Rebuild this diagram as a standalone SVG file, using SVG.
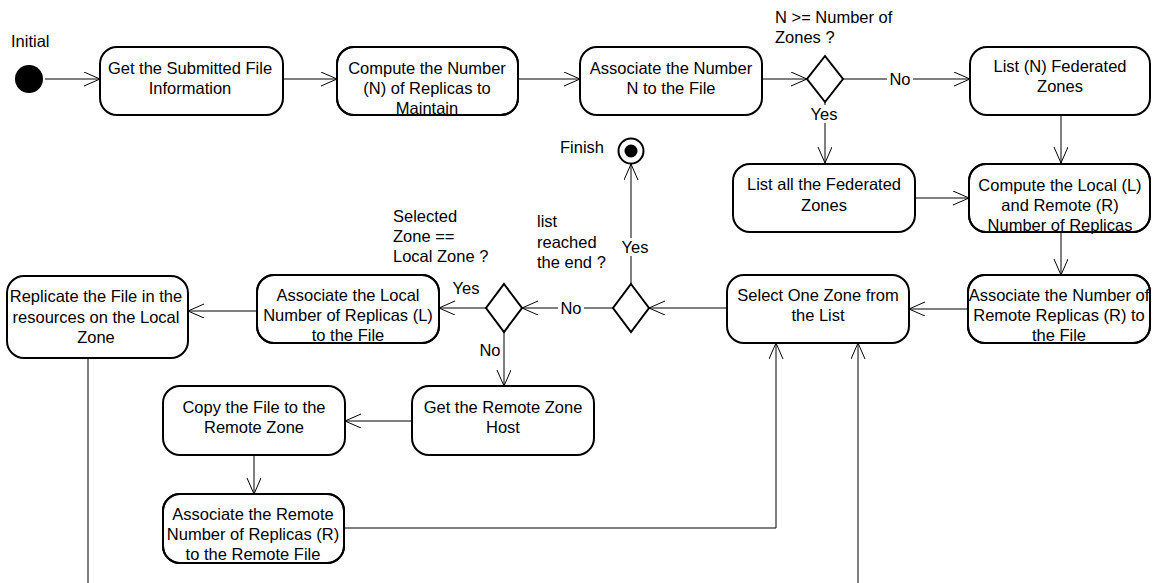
<svg xmlns="http://www.w3.org/2000/svg" width="1156" height="583" viewBox="0 0 1156 583">
  <style>
    text { font-family: "Liberation Sans", Arial, sans-serif; font-size: 16.5px; fill: #000; }
    .c { text-anchor: middle; }
    .act { fill: #fff; stroke: #000; stroke-width: 2; }
    .act-border { fill: none; stroke: #000; stroke-width: 2; }
    .dec { fill: #fff; stroke: #000; stroke-width: 2; }
    .edge { fill: none; stroke: #000; stroke-width: 1; }
    .lblbg { fill: #fff; stroke: none; }
  </style>
  <defs>
    <marker id="open" markerUnits="userSpaceOnUse" markerWidth="18" markerHeight="16" refX="16" refY="7" orient="auto">
      <path d="M0,0 L16,7 L0,14" fill="none" stroke="#000" stroke-width="1"/>
    </marker>
  </defs>

  <rect width="1156" height="583" fill="#fff"/>

  <!-- connectors -->
  <g id="connectors">
    <line class="edge" x1="45" y1="79" x2="100" y2="79" marker-end="url(#open)"/>
    <line class="edge" x1="283" y1="79" x2="337" y2="79" marker-end="url(#open)"/>
    <line class="edge" x1="518" y1="79" x2="580" y2="79" marker-end="url(#open)"/>
    <line class="edge" x1="762" y1="79" x2="807" y2="79" marker-end="url(#open)"/>
    <line class="edge" x1="843" y1="79" x2="970" y2="79" marker-end="url(#open)"/>
    <line class="edge" x1="825" y1="102" x2="825" y2="163" marker-end="url(#open)"/>
    <line class="edge" x1="1061" y1="116" x2="1061" y2="163" marker-end="url(#open)"/>
    <line class="edge" x1="915" y1="198" x2="969" y2="198" marker-end="url(#open)"/>
    <line class="edge" x1="1061" y1="233" x2="1061" y2="275" marker-end="url(#open)"/>
    <line class="edge" x1="968" y1="309" x2="909" y2="309" marker-end="url(#open)"/>
    <line class="edge" x1="727" y1="308" x2="649" y2="308" marker-end="url(#open)"/>
    <line class="edge" x1="631" y1="284" x2="631" y2="164" marker-end="url(#open)"/>
    <line class="edge" x1="613" y1="308" x2="522" y2="308" marker-end="url(#open)"/>
    <line class="edge" x1="486" y1="308" x2="439" y2="308" marker-end="url(#open)"/>
    <line class="edge" x1="504" y1="332" x2="504" y2="386" marker-end="url(#open)"/>
    <line class="edge" x1="257" y1="311" x2="188" y2="311" marker-end="url(#open)"/>
    <line class="edge" x1="412" y1="421" x2="345" y2="421" marker-end="url(#open)"/>
    <line class="edge" x1="254" y1="456" x2="254" y2="494" marker-end="url(#open)"/>
    <polyline class="edge" points="344,528 776,528 776,343" marker-end="url(#open)"/>
    <line class="edge" x1="858" y1="583" x2="858" y2="343" marker-end="url(#open)"/>
    <line class="edge" x1="88" y1="359" x2="88" y2="583"/>

    <!-- guard labels -->
    <rect class="lblbg" x="887" y="71" width="26" height="16"/>
    <text class="c" x="900" y="85">No</text>
    <rect class="lblbg" x="809" y="105" width="32" height="18"/>
    <text class="c" x="824" y="120">Yes</text>
    <rect class="lblbg" x="619" y="238" width="32" height="18"/>
    <text class="c" x="635" y="253">Yes</text>
    <rect class="lblbg" x="558" y="300" width="26" height="16"/>
    <text class="c" x="571" y="314">No</text>
    <text class="c" x="466" y="294">Yes</text>
    <text class="c" x="490" y="356">No</text>

    <!-- decision conditions -->
    <text x="775" y="23">N &gt;= Number of</text>
    <text x="775" y="43">Zones ?</text>
    <text x="537" y="227">list</text>
    <text x="537" y="248">reached</text>
    <text x="537" y="268">the end ?</text>
    <text x="393" y="222">Selected</text>
    <text x="393" y="242">Zone ==</text>
    <text x="393" y="262">Local Zone ?</text>
  </g>

  <!-- start / end -->
  <g id="initial">
    <circle cx="29" cy="79" r="14" fill="#000"/>
    <text x="11" y="47">Initial</text>
  </g>
  <g id="finish">
    <circle cx="631" cy="151" r="12.5" fill="#fff" stroke="#000" stroke-width="2"/>
    <circle cx="631" cy="151" r="6.5" fill="#000"/>
    <text x="560" y="153">Finish</text>
  </g>

  <!-- decisions -->
  <g id="dec-zones"><polygon class="dec" points="825,56 843,79 825,102 807,79"/></g>
  <g id="dec-end"><polygon class="dec" points="631,284 649,308 631,332 613,308"/></g>
  <g id="dec-local"><polygon class="dec" points="504,284 522,308 504,332 486,308"/></g>

  <!-- actions -->
  <g id="get-info">
    <rect class="act" x="100" y="47" width="183" height="68" rx="17"/>
    <text class="c" x="190" y="74">Get the Submitted File</text>
    <text class="c" x="190" y="94">Information</text>
  </g>
  <g id="compute-n">
    <rect class="act" x="337" y="47" width="181" height="68" rx="17"/>
    <text class="c" x="427" y="74">Compute the Number</text>
    <text class="c" x="427" y="94">(N) of Replicas to</text>
    <text class="c" x="427" y="114">Maintain</text>
    <rect class="act-border" x="337" y="47" width="181" height="68" rx="17"/>
  </g>
  <g id="associate-n">
    <rect class="act" x="580" y="47" width="182" height="68" rx="17"/>
    <text class="c" x="671" y="74">Associate the Number</text>
    <text class="c" x="671" y="94">N to the File</text>
  </g>
  <g id="list-n">
    <rect class="act" x="970" y="47" width="180" height="68" rx="17"/>
    <text class="c" x="1060" y="72">List (N) Federated</text>
    <text class="c" x="1060" y="92">Zones</text>
  </g>
  <g id="list-all">
    <rect class="act" x="733" y="164" width="182" height="68" rx="17"/>
    <text class="c" x="824" y="190">List all the Federated</text>
    <text class="c" x="824" y="211">Zones</text>
  </g>
  <g id="compute-lr">
    <rect class="act" x="969" y="164" width="181" height="68" rx="17"/>
    <text class="c" x="1060" y="191">Compute the Local (L)</text>
    <text class="c" x="1060" y="211">and Remote (R)</text>
    <text class="c" x="1060" y="231">Number of Replicas</text>
    <rect class="act-border" x="969" y="164" width="181" height="68" rx="17"/>
  </g>
  <g id="associate-r">
    <rect class="act" x="968" y="275" width="182" height="68" rx="17"/>
    <text class="c" x="1059" y="301">Associate the Number of</text>
    <text class="c" x="1059" y="321">Remote Replicas (R) to</text>
    <text class="c" x="1059" y="341">the  File</text>
    <rect class="act-border" x="968" y="275" width="182" height="68" rx="17"/>
  </g>
  <g id="select-zone">
    <rect class="act" x="727" y="275" width="182" height="68" rx="17"/>
    <text class="c" x="818" y="301">Select One Zone from</text>
    <text class="c" x="818" y="321">the List</text>
  </g>
  <g id="associate-local">
    <rect class="act" x="257" y="275" width="182" height="68" rx="17"/>
    <text class="c" x="348" y="301">Associate the Local</text>
    <text class="c" x="348" y="321">Number of Replicas (L)</text>
    <text class="c" x="348" y="341">to the File</text>
    <rect class="act-border" x="257" y="275" width="182" height="68" rx="17"/>
  </g>
  <g id="replicate-local">
    <rect class="act" x="7" y="276" width="181" height="82" rx="17"/>
    <text class="c" x="96" y="302">Replicate the File in the</text>
    <text class="c" x="96" y="323">resources on the Local</text>
    <text class="c" x="96" y="343">Zone</text>
  </g>
  <g id="remote-host">
    <rect class="act" x="412" y="386" width="182" height="69" rx="17"/>
    <text class="c" x="503" y="413">Get the Remote Zone</text>
    <text class="c" x="503" y="433">Host</text>
  </g>
  <g id="copy-remote">
    <rect class="act" x="163" y="386" width="182" height="69" rx="17"/>
    <text class="c" x="254" y="413">Copy the File to the</text>
    <text class="c" x="254" y="433">Remote Zone</text>
  </g>
  <g id="associate-remote">
    <rect class="act" x="163" y="494" width="181" height="69" rx="17"/>
    <text class="c" x="253" y="520">Associate the Remote</text>
    <text class="c" x="253" y="540">Number of Replicas (R)</text>
    <text class="c" x="253" y="560">to the Remote File</text>
    <rect class="act-border" x="163" y="494" width="181" height="69" rx="17"/>
  </g>
</svg>
